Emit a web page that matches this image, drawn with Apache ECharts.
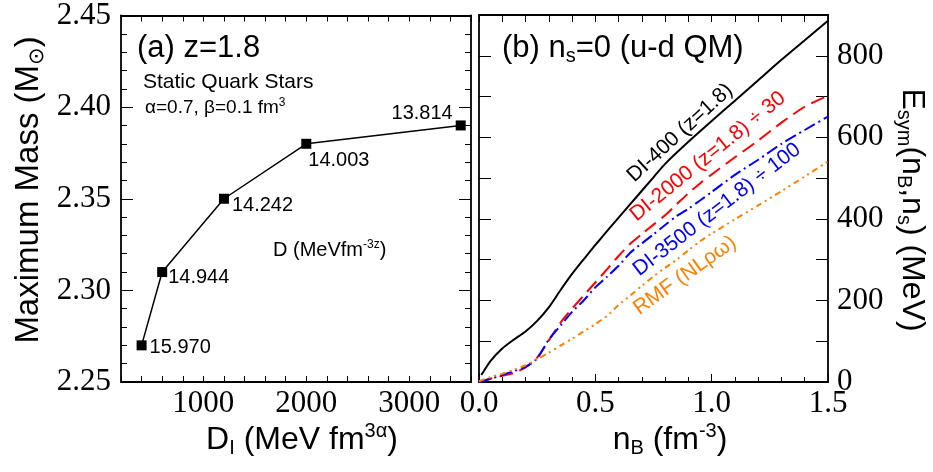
<!DOCTYPE html>
<html>
<head>
<meta charset="utf-8">
<script src="https://cdn.jsdelivr.net/npm/echarts@6/dist/echarts.min.js"></script>
<style>
html, body { margin: 0; padding: 0; background: #fff; }
#chart { width: 933px; height: 472px; }
</style>
</head>
<body>
<div id="chart"></div>
<script>
// ---- (a) maximum mass of static quark stars vs D_I ----
const diValues = [400, 600, 1200, 2000, 3500];
const maxMass = [2.27, 2.31, 2.35, 2.38, 2.39];
const dLabels = ['15.970', '14.944', '14.242', '14.003', '13.814'];

// ---- (b) symmetry energy vs baryon density, n_s = 0 ----
const nDI400 = [0.01, 0.05, 0.1, 0.15, 0.2, 0.25, 0.3, 0.35, 0.4, 0.45, 0.5, 0.55, 0.6, 0.65, 0.7, 0.75, 0.8, 0.9, 1.0, 1.1, 1.2, 1.3, 1.4, 1.5];
const eDI400 = [17, 52, 82, 104, 124, 150, 183, 225, 265, 301, 336, 370, 403, 436, 469, 502, 535, 589, 640, 690, 740, 790, 838, 886];

const nDI2000 = [0, 0.05, 0.1, 0.15, 0.2, 0.25, 0.3, 0.35, 0.4, 0.45, 0.5, 0.55, 0.6, 0.65, 0.7, 0.75, 0.8, 0.85, 0.9, 0.95, 1.0, 1.1, 1.2, 1.3, 1.4, 1.5];
const eDI2000 = [0, 8, 15, 22, 36, 60, 102, 145, 180, 212, 244, 276, 309, 339, 363, 386, 409, 436, 463, 487, 509, 551, 592, 636, 675, 702];

const nDI3500 = [0, 0.05, 0.1, 0.15, 0.2, 0.25, 0.3, 0.35, 0.4, 0.45, 0.5, 0.55, 0.6, 0.65, 0.7, 0.75, 0.8, 0.85, 0.9, 0.95, 1.0, 1.1, 1.2, 1.3, 1.4, 1.5];
const eDI3500 = [0, 8, 17, 27, 37, 58, 104, 138, 172, 200, 232, 258, 285, 317, 340, 362, 385, 407, 425, 445, 466, 508, 545, 584, 618, 651];

const nRMF = [0, 0.05, 0.1, 0.15, 0.2, 0.25, 0.3, 0.35, 0.4, 0.45, 0.5, 0.55, 0.6, 0.65, 0.7, 0.75, 0.8, 0.85, 0.9, 0.95, 1.0, 1.1, 1.2, 1.3, 1.4, 1.5];
const eRMF = [2, 12, 20, 30, 41, 56, 72, 89, 106, 124, 142, 162, 189, 212, 236, 259, 280, 300, 323, 345, 364, 399, 433, 468, 504, 541];

const curveNames = ['DI-400 (z=1.8)', 'DI-2000 (z=1.8) ÷ 30', 'DI-3500 (z=1.8) ÷ 100', 'RMF (NLρω)'];
// anchor (n_B, E_sym) of each rotated curve label
const curveLabelAt = [[0.864, 611], [0.984, 553], [1.023, 423], [0.885, 261]];

const SANS = "'Liberation Sans', Arial, 'DejaVu Sans', sans-serif";
const SERIF = "'Liberation Serif', 'Times New Roman', serif";

const chart = echarts.init(document.getElementById('chart'), null, { renderer: 'canvas' });

function frameAxis(extra) {
  return Object.assign({
    type: 'value',
    axisLine: { show: true, onZero: false, lineStyle: { color: '#000', width: 1.8 } },
    axisTick: { show: true, inside: true, length: 6, lineStyle: { color: '#000', width: 1 } },
    axisLabel: { show: false },
    splitLine: { show: false }
  }, extra);
}
const tickLabel = (fmt, margin) => ({
  show: true, interval: 0, margin: margin, color: '#000',
  fontFamily: SERIF, fontSize: 31, formatter: fmt,
  showMinLabel: true, showMaxLabel: true
});

// point-label placement for panel (a)
const pointLabelLayout = [
  { position: 'right', distance: 3, offset: [0, 2] },
  { position: 'right', distance: 3, offset: [-2, 5] },
  { position: 'right', distance: 3, offset: [0, 7] },
  { position: 'right', distance: 3, offset: [-6, 17] },
  { position: 'left', distance: 3, offset: [0, -12] }
];

const curveStyles = [
  { color: '#000000', width: 2, type: 'solid' },
  { color: '#ff0000', width: 2, type: [14, 7] },
  { color: '#0000ff', width: 2, type: [12, 4, 2, 4] },
  { color: '#ff8000', width: 2, type: [6, 4, 2, 4, 2, 4] }
];
const curveData = [[nDI400, eDI400], [nDI2000, eDI2000], [nDI3500, eDI3500], [nRMF, eRMF]];

chart.setOption({
  animation: false,
  backgroundColor: '#fff',
  grid: [
    { left: 121, top: 15, width: 350, height: 367 },
    { left: 479, top: 15, width: 349, height: 367 }
  ],
  xAxis: [
    frameAxis({ gridIndex: 0, position: 'bottom', min: 200, max: 3600, interval: 200,
      axisLabel: tickLabel(v => (v % 1000 === 0 ? String(v) : ''), 6) }),
    frameAxis({ gridIndex: 0, position: 'top', min: 200, max: 3600, interval: 200 }),
    frameAxis({ gridIndex: 1, position: 'bottom', min: 0, max: 1.5, interval: 0.5,
      axisTick: { show: true, inside: true, length: 8, lineStyle: { color: '#000', width: 1 } },
      minorTick: { show: true, splitNumber: 5, length: 5, lineStyle: { color: '#000', width: 1 } },
      axisLabel: tickLabel(v => v.toFixed(1), 6) }),
    frameAxis({ gridIndex: 1, position: 'top', min: 0, max: 1.5, interval: 0.5,
      axisTick: { show: true, inside: true, length: 7, lineStyle: { color: '#000', width: 1 } },
      minorTick: { show: true, splitNumber: 5, length: 7, lineStyle: { color: '#000', width: 1 } } })
  ],
  yAxis: [
    frameAxis({ gridIndex: 0, position: 'left', min: 2.25, max: 2.45, interval: 0.05,
      axisTick: { show: true, inside: true, length: 12, lineStyle: { color: '#000', width: 1 } },
      minorTick: { show: true, splitNumber: 5, length: 6, lineStyle: { color: '#000', width: 1 } },
      axisLabel: tickLabel(v => v.toFixed(2), 10) }),
    frameAxis({ gridIndex: 0, position: 'right', min: 2.25, max: 2.45, interval: 0.05,
      axisTick: { show: true, inside: true, length: 12, lineStyle: { color: '#000', width: 1 } },
      minorTick: { show: true, splitNumber: 5, length: 6, lineStyle: { color: '#000', width: 1 } } }),
    frameAxis({ gridIndex: 1, position: 'right', min: 0, max: 900, interval: 100,
      axisTick: { show: true, inside: true, length: 12, lineStyle: { color: '#000', width: 1 } },
      axisLabel: tickLabel(v => (v % 200 === 0 && v < 900 ? String(v) : ''), 9) }),
    frameAxis({ gridIndex: 1, position: 'left', min: 0, max: 900, interval: 100,
      axisTick: { show: true, inside: true, length: 12, lineStyle: { color: '#000', width: 1 } } })
  ],
  series: [
    {
      type: 'line', xAxisIndex: 0, yAxisIndex: 0,
      symbol: 'rect', symbolSize: 10,
      lineStyle: { color: '#000', width: 1.5 },
      itemStyle: { color: '#000' },
      label: { show: true, color: '#000', fontFamily: SANS, fontSize: 20,
        formatter: p => dLabels[p.dataIndex] },
      data: diValues.map((d, i) => ({ value: [d, maxMass[i]], label: pointLabelLayout[i] }))
    }
  ].concat(curveData.map((c, k) => ({
    type: 'line', xAxisIndex: 2, yAxisIndex: 2,
    name: curveNames[k],
    showSymbol: false, smooth: 0.25,
    lineStyle: curveStyles[k],
    data: c[0].map((n, i) => [n, c[1][i]])
  })))
});

// rich-text helpers for sub/superscripts
function richFor(size, small, color) {
  const drop = Math.round(size * 0.3);
  return {
    sub: { fontSize: small, fontFamily: SANS, fill: color, lineHeight: Math.round(size * 0.35),
      padding: [drop, 0, 0, 0], verticalAlign: 'bottom' },
    sup: { fontSize: small, fontFamily: SANS, fill: color, lineHeight: Math.round(size * 0.5), verticalAlign: 'top' }
  };
}
function txt(x, y, text, size, opts) {
  opts = opts || {};
  const small = opts.small || Math.round(size * 0.62);
  const color = opts.color || '#000';
  return {
    type: 'text', x: x, y: y, rotation: opts.rotation || 0, z: 100,
    style: {
      text: text, fill: color, fontFamily: SANS, fontSize: size,
      lineHeight: Math.round(size * 1.15),
      align: opts.align || 'left', verticalAlign: 'middle', rich: richFor(size, small, color)
    }
  };
}

const curveColors = curveStyles.map(s => s.color);
const curveRot = [42.5, 39, 37.5, 35.5];
const graphics = [
  // panel (a)
  txt(137, 48, '(a) z=1.8', 31),
  txt(143, 82, 'Static Quark Stars', 21),
  txt(145, 108, 'α=0.7, β=0.1 fm{sup|3}', 19, { small: 12 }),
  txt(273, 250, 'D (MeVfm{sup|-3z})', 20, { small: 12 }),
  // panel (b)
  txt(502, 48, '(b) n{sub|s}=0 (u-d QM)', 31, { small: 20 }),
  // axis titles
  txt(29, 190, 'Maximum Mass (M{sub|⊙})', 33, { align: 'center', rotation: Math.PI / 2, small: 21 }),
  txt(302, 440, 'D{sub|I} (MeV fm{sup|3α})', 32, { align: 'center', small: 20 }),
  txt(670, 440, 'n{sub|B} (fm{sup|-3})', 32, { align: 'center', small: 20 }),
  txt(912, 210, 'E{sub|sym}(n{sub|B},n{sub|s}) (MeV)', 32, { align: 'center', rotation: -Math.PI / 2, small: 20 })
];
curveLabelAt.forEach((pt, k) => {
  const p = chart.convertToPixel({ xAxisIndex: 2, yAxisIndex: 2 }, pt);
  graphics.push(txt(p[0], p[1], curveNames[k], 21,
    { align: 'center', color: curveColors[k], rotation: curveRot[k] * Math.PI / 180 }));
});
chart.setOption({ graphic: graphics });
</script>
</body>
</html>
